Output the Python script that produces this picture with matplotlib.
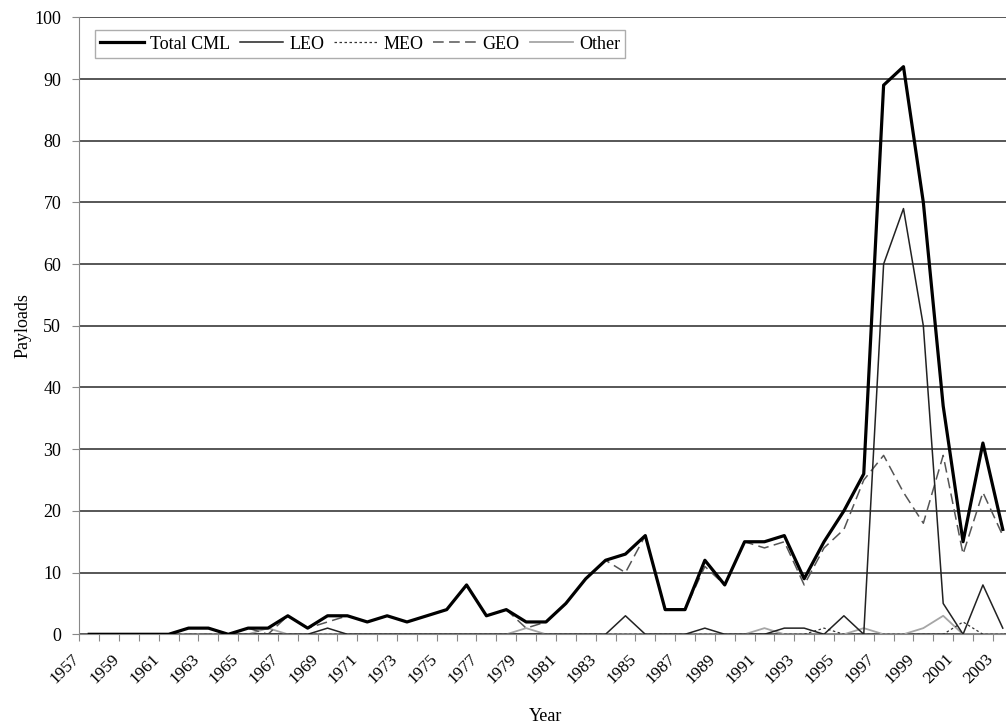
import matplotlib
matplotlib.use('Agg')
import matplotlib.pyplot as plt
import matplotlib.transforms as mtransforms

# ── Data ─────────────────────────────────────────────────────────────────────
years = list(range(1957, 2004))

total_cml = [0, 0, 0, 0, 0, 1, 1, 0, 1, 1,
             3, 1, 3, 3, 2, 3, 2, 3, 4, 8,
             3, 4, 2, 2, 5, 9, 12, 13, 16, 4,
             4, 12, 8, 15, 15, 16, 9, 15, 20, 26,
             89, 92, 70, 37, 15, 31, 17]
leo = [0, 0, 0, 0, 0, 1, 1, 0, 0, 0,
       0, 0, 1, 0, 0, 0, 0, 0, 0, 0,
       0, 0, 0, 0, 0, 0, 0, 3, 0, 0,
       0, 1, 0, 0, 0, 1, 1, 0, 3, 0,
       60, 69, 50, 5, 0, 8, 1]
meo = [0, 0, 0, 0, 0, 0, 0, 0, 0, 0,
       0, 0, 0, 0, 0, 0, 0, 0, 0, 0,
       0, 0, 0, 0, 0, 0, 0, 0, 0, 0,
       0, 0, 0, 0, 0, 0, 0, 1, 0, 0,
       0, 0, 0, 0, 2, 0, 0]
geo = [0, 0, 0, 0, 0, 0, 0, 0, 1, 0,
       3, 1, 2, 3, 2, 3, 2, 3, 4, 8,
       3, 4, 1, 2, 5, 9, 12, 10, 16, 4,
       4, 11, 8, 15, 14, 15, 8, 14, 17, 25,
       29, 23, 18, 29, 13, 23, 16]
other = [0, 0, 0, 0, 0, 0, 0, 0, 0, 1,
         0, 0, 0, 0, 0, 0, 0, 0, 0, 0,
         0, 0, 1, 0, 0, 0, 0, 0, 0, 0,
         0, 0, 0, 0, 1, 0, 0, 0, 0, 1,
         0, 0, 1, 3, 0, 0, 0]

y_ticks = list(range(0, 101, 10))

# ── Style ─────────────────────────────────────────────────────────────────────
plt.rcParams['font.family'] = ['Liberation Serif', 'DejaVu Serif']
plt.rcParams['font.size'] = 13

fig = plt.figure(figsize=(10.06, 7.28), dpi=100)
ax = fig.add_axes([79.3 / 1006, (728 - 634.3) / 728, 933.4 / 1006, 617.0 / 728])

x = list(range(len(years)))

ax.plot(x, other, color='#a6a6a6', lw=1.3, label='Other', zorder=2)
ax.plot(x, meo, color='#333333', lw=0.9, dashes=(2, 2), label='MEO', zorder=3)
ax.plot(x, geo, color='#555555', lw=1.1, dashes=(7, 3.5), label='GEO', zorder=3)
ax.plot(x, leo, color='#222222', lw=1.1, label='LEO', zorder=4)
ax.plot(x, total_cml, color='black', lw=2.3, label='Total CML', zorder=5)

ax.set_xlim(-0.5, len(years) - 0.5)
ax.set_ylim(0, 100)
ax.set_yticks(y_ticks)
ax.yaxis.grid(True, color='#3a3a3a', lw=1.2)
ax.set_axisbelow(True)

# category boundaries get the tick marks, labels every other year
ax.set_xticks([k - 0.5 for k in range(len(years) + 1)])
ax.set_xticklabels([])
ax.set_xticks(list(range(0, len(years), 2)), minor=True)
ax.set_xticklabels([str(y) for y in years[::2]], minor=True,
                   rotation=45, ha='right', va='top', fontsize=12.5)
ax.tick_params(axis='x', which='major', length=5, color='#888888')
ax.tick_params(axis='x', which='minor', length=0, pad=12)
ax.tick_params(axis='y', length=5, color='#888888', pad=8, labelsize=13)

offset = mtransforms.ScaledTranslation(-6 / 100, 0, fig.dpi_scale_trans)
for lbl in ax.get_xticklabels(minor=True):
    lbl.set_transform(lbl.get_transform() + offset)

for side in ('top', 'right'):
    ax.spines[side].set_visible(False)
ax.spines['left'].set_color('#888888')
ax.spines['bottom'].set_color('#888888')

ax.set_ylabel('Payloads')
ax.yaxis.set_label_coords(-0.0517, 0.5)
ax.set_xlabel('Year')
ax.xaxis.set_label_coords(0.5, -0.119)

handles, labels = ax.get_legend_handles_labels()
order = [4, 3, 1, 2, 0]
leg = ax.legend([handles[i] for i in order], [labels[i] for i in order],
                loc='upper left', bbox_to_anchor=(0.0168, 0.979), ncol=5,
                frameon=True, fancybox=False, edgecolor='#999999',
                handlelength=2.4, handletextpad=0.33, columnspacing=0.55,
                borderpad=0.3, borderaxespad=0, fontsize=13)
leg.get_frame().set_linewidth(1.0)

fig.savefig('out.png', dpi=100)
